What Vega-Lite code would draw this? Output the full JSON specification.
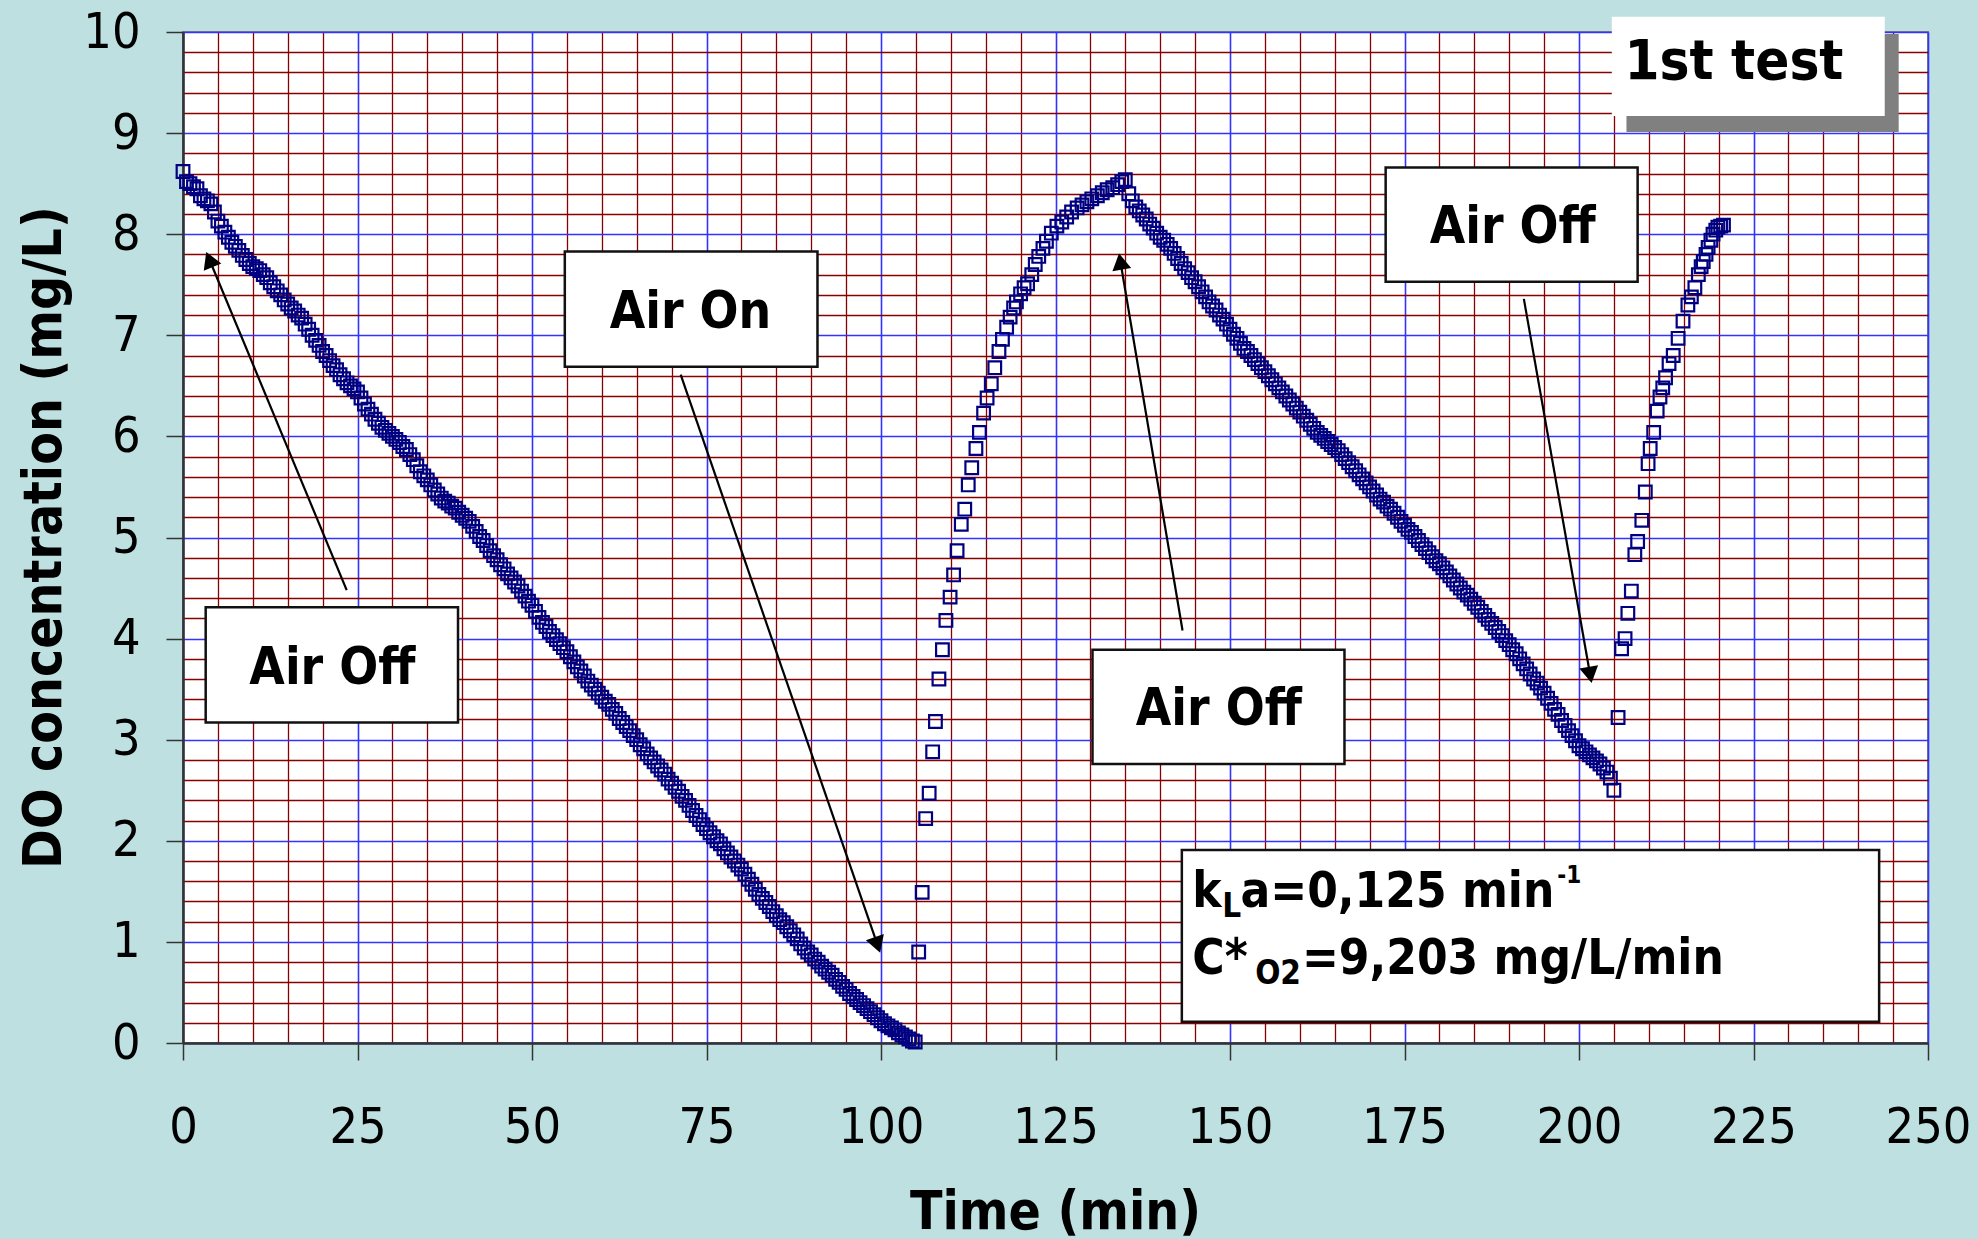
{
  "$schema": "https://vega.github.io/schema/vega-lite/v6.json",
  "width": 1745,
  "height": 1011,
  "autosize": "none",
  "padding": {"left": 183, "top": 32, "right": 50, "bottom": 196},
  "background": "#bee0e0",
  "config": {"view": {"fill": "white", "stroke": "#808080", "strokeWidth": 2}},
  "encoding": {
    "x": {"field": "time", "type": "quantitative", "title": "Time (min)", "scale": {"domain": [0, 250], "nice": false, "zero": false},
      "axis": {"values": [0,5,10,15,20,25,30,35,40,45,50,55,60,65,70,75,80,85,90,95,100,105,110,115,120,125,130,135,140,145,150,155,160,165,170,175,180,185,190,195,200,205,210,215,220,225,230,235,240,245,250],
        "labelExpr": "datum.value % 25 === 0 ? datum.label : ''",
        "grid": true, "gridColor": {"condition": {"test": "datum.value % 25 === 0", "value": "#3333ff"}, "value": "#880000"}, "gridWidth": {"condition": {"test": "datum.value % 25 === 0", "value": 1.6}, "value": 1.3},
        "ticks": true, "tickSize": 17, "tickColor": "#333333", "tickWidth": 1.5, "tickOpacity": {"condition": {"test": "datum.value % 25 === 0", "value": 1}, "value": 0},
        "domainColor": "#333333", "domainWidth": 2.5,
        "labelFont": "DejaVu Sans Condensed", "labelFontSize": 50, "labelColor": "black", "labelBaseline": "alphabetic", "labelAlign": "center", "labelPadding": 82, "labelFlush": false, "labelOverlap": false, "labelBound": false,
        "titleFont": "DejaVu Sans Condensed", "titleFontWeight": "bold", "titleFontSize": 53, "titleColor": "black", "titleBaseline": "alphabetic", "titleY": 185, "titleX": 872}},
    "y": {"field": "do", "type": "quantitative", "title": "DO concentration (mg/L)", "scale": {"domain": [0, 10], "nice": false, "zero": false},
      "axis": {"values": [0,0.2,0.4,0.6,0.8,1,1.2,1.4,1.6,1.8,2,2.2,2.4,2.6,2.8,3,3.2,3.4,3.6,3.8,4,4.2,4.4,4.6,4.8,5,5.2,5.4,5.6,5.8,6,6.2,6.4,6.6,6.8,7,7.2,7.4,7.6,7.8,8,8.2,8.4,8.6,8.8,9,9.2,9.4,9.6,9.8,10],
        "labelExpr": "abs(datum.value - round(datum.value)) < 0.001 ? format(datum.value, 'd') : ''",
        "grid": true, "gridColor": {"condition": {"test": "abs(datum.value - round(datum.value)) < 0.001", "value": "#3333ff"}, "value": "#880000"}, "gridWidth": {"condition": {"test": "abs(datum.value - round(datum.value)) < 0.001", "value": 1.6}, "value": 1.3},
        "ticks": true, "tickSize": 17, "tickColor": "#333333", "tickWidth": 1.5, "tickOpacity": {"condition": {"test": "abs(datum.value - round(datum.value)) < 0.001", "value": 1}, "value": 0},
        "domainColor": "#333333", "domainWidth": 2.5,
        "labelFont": "DejaVu Sans Condensed", "labelFontSize": 50, "labelColor": "black", "labelBaseline": "middle", "labelAlign": "right", "labelPadding": 26, "labelFlush": false, "labelOverlap": false, "labelBound": false,
        "titleFont": "DejaVu Sans Condensed", "titleFontWeight": "bold", "titleFontSize": 53, "titleColor": "black", "titleBaseline": "alphabetic", "titleAngle": 270, "titleX": -123, "titleY": 505}}
  },
  "layer": [
    {
      "data": {"values": [
        {"time":0,"do":8.62},{"time":0.5,"do":8.52},{"time":1,"do":8.5},{"time":1.5,"do":8.47},{"time":2,"do":8.45},{"time":2.5,"do":8.38},{"time":3,"do":8.35},{"time":3.5,"do":8.33},{"time":4,"do":8.3},{"time":4.5,"do":8.22},{"time":5,"do":8.13},{"time":5.5,"do":8.08},{"time":6,"do":8.02},{"time":6.5,"do":7.97},{"time":7,"do":7.92},{"time":7.5,"do":7.88},{"time":8,"do":7.84},{"time":8.5,"do":7.79},{"time":9,"do":7.75},{"time":9.5,"do":7.71},{"time":10,"do":7.68},{"time":10.5,"do":7.66},{"time":11,"do":7.64},{"time":11.5,"do":7.6},{"time":12,"do":7.57},{"time":12.5,"do":7.52},{"time":13,"do":7.48},{"time":13.5,"do":7.44},{"time":14,"do":7.4},{"time":14.5,"do":7.35},{"time":15,"do":7.31},{"time":15.5,"do":7.27},{"time":16,"do":7.24},{"time":16.5,"do":7.2},{"time":17,"do":7.17},{"time":17.5,"do":7.11},{"time":18,"do":7.06},{"time":18.5,"do":7.0},{"time":19,"do":6.95},{"time":19.5,"do":6.9},{"time":20,"do":6.84},{"time":20.5,"do":6.8},{"time":21,"do":6.75},{"time":21.5,"do":6.7},{"time":22,"do":6.66},{"time":22.5,"do":6.61},{"time":23,"do":6.57},{"time":23.5,"do":6.53},{"time":24,"do":6.5},{"time":24.5,"do":6.47},{"time":25,"do":6.44},{"time":25.5,"do":6.38},{"time":26,"do":6.32},{"time":26.5,"do":6.27},{"time":27,"do":6.22},{"time":27.5,"do":6.17},{"time":28,"do":6.13},{"time":28.5,"do":6.09},{"time":29,"do":6.06},{"time":29.5,"do":6.03},{"time":30,"do":6.0},{"time":30.5,"do":5.97},{"time":31,"do":5.94},{"time":31.5,"do":5.9},{"time":32,"do":5.87},{"time":32.5,"do":5.82},{"time":33,"do":5.77},{"time":33.5,"do":5.71},{"time":34,"do":5.65},{"time":34.5,"do":5.61},{"time":35,"do":5.57},{"time":35.5,"do":5.52},{"time":36,"do":5.47},{"time":36.5,"do":5.43},{"time":37,"do":5.39},{"time":37.5,"do":5.36},{"time":38,"do":5.34},{"time":38.5,"do":5.31},{"time":39,"do":5.29},{"time":39.5,"do":5.25},{"time":40,"do":5.22},{"time":40.5,"do":5.19},{"time":41,"do":5.16},{"time":41.5,"do":5.11},{"time":42,"do":5.06},{"time":42.5,"do":5.01},{"time":43,"do":4.97},{"time":43.5,"do":4.92},{"time":44,"do":4.87},{"time":44.5,"do":4.82},{"time":45,"do":4.78},{"time":45.5,"do":4.73},{"time":46,"do":4.69},{"time":46.5,"do":4.64},{"time":47,"do":4.6},{"time":47.5,"do":4.56},{"time":48,"do":4.52},{"time":48.5,"do":4.47},{"time":49,"do":4.42},{"time":49.5,"do":4.37},{"time":50,"do":4.33},{"time":50.5,"do":4.27},{"time":51,"do":4.21},{"time":51.5,"do":4.16},{"time":52,"do":4.12},{"time":52.5,"do":4.07},{"time":53,"do":4.03},{"time":53.5,"do":3.99},{"time":54,"do":3.95},{"time":54.5,"do":3.91},{"time":55,"do":3.87},{"time":55.5,"do":3.82},{"time":56,"do":3.77},{"time":56.5,"do":3.72},{"time":57,"do":3.68},{"time":57.5,"do":3.63},{"time":58,"do":3.58},{"time":58.5,"do":3.54},{"time":59,"do":3.5},{"time":59.5,"do":3.46},{"time":60,"do":3.42},{"time":60.5,"do":3.38},{"time":61,"do":3.35},{"time":61.5,"do":3.3},{"time":62,"do":3.26},{"time":62.5,"do":3.21},{"time":63,"do":3.17},{"time":63.5,"do":3.13},{"time":64,"do":3.09},{"time":64.5,"do":3.04},{"time":65,"do":3.0},{"time":65.5,"do":2.95},{"time":66,"do":2.91},{"time":66.5,"do":2.86},{"time":67,"do":2.82},{"time":67.5,"do":2.78},{"time":68,"do":2.74},{"time":68.5,"do":2.7},{"time":69,"do":2.66},{"time":69.5,"do":2.61},{"time":70,"do":2.57},{"time":70.5,"do":2.53},{"time":71,"do":2.49},{"time":71.5,"do":2.44},{"time":72,"do":2.4},{"time":72.5,"do":2.35},{"time":73,"do":2.3},{"time":73.5,"do":2.25},{"time":74,"do":2.21},{"time":74.5,"do":2.16},{"time":75,"do":2.12},{"time":75.5,"do":2.08},{"time":76,"do":2.04},{"time":76.5,"do":2.0},{"time":77,"do":1.97},{"time":77.5,"do":1.92},{"time":78,"do":1.88},{"time":78.5,"do":1.84},{"time":79,"do":1.8},{"time":79.5,"do":1.76},{"time":80,"do":1.72},{"time":80.5,"do":1.67},{"time":81,"do":1.62},{"time":81.5,"do":1.57},{"time":82,"do":1.52},{"time":82.5,"do":1.47},{"time":83,"do":1.43},{"time":83.5,"do":1.39},{"time":84,"do":1.35},{"time":84.5,"do":1.3},{"time":85,"do":1.26},{"time":85.5,"do":1.22},{"time":86,"do":1.19},{"time":86.5,"do":1.15},{"time":87,"do":1.11},{"time":87.5,"do":1.07},{"time":88,"do":1.03},{"time":88.5,"do":0.98},{"time":89,"do":0.94},{"time":89.5,"do":0.9},{"time":90,"do":0.87},{"time":90.5,"do":0.83},{"time":91,"do":0.8},{"time":91.5,"do":0.76},{"time":92,"do":0.73},{"time":92.5,"do":0.7},{"time":93,"do":0.67},{"time":93.5,"do":0.63},{"time":94,"do":0.6},{"time":94.5,"do":0.56},{"time":95,"do":0.53},{"time":95.5,"do":0.49},{"time":96,"do":0.46},{"time":96.5,"do":0.43},{"time":97,"do":0.4},{"time":97.5,"do":0.37},{"time":98,"do":0.34},{"time":98.5,"do":0.31},{"time":99,"do":0.28},{"time":99.5,"do":0.25},{"time":100,"do":0.22},{"time":100.5,"do":0.19},{"time":101,"do":0.17},{"time":101.5,"do":0.15},{"time":102,"do":0.13},{"time":102.5,"do":0.1},{"time":103,"do":0.08},{"time":103.5,"do":0.06},{"time":104,"do":0.04},{"time":104.5,"do":0.02},{"time":104.9,"do":0.01},
        {"time":105.4,"do":0.9},{"time":105.9,"do":1.49},{"time":106.4,"do":2.22},{"time":106.9,"do":2.47},{"time":107.4,"do":2.88},{"time":107.8,"do":3.18},{"time":108.3,"do":3.6},{"time":108.8,"do":3.89},{"time":109.3,"do":4.18},{"time":109.9,"do":4.41},{"time":110.4,"do":4.63},{"time":110.9,"do":4.87},{"time":111.5,"do":5.13},{"time":112,"do":5.28},{"time":112.5,"do":5.52},{"time":113,"do":5.69},{"time":113.6,"do":5.88},{"time":114.1,"do":6.04},{"time":114.7,"do":6.23},{"time":115.2,"do":6.38},{"time":115.8,"do":6.52},{"time":116.3,"do":6.68},{"time":116.9,"do":6.84},{"time":117.4,"do":6.96},{"time":118,"do":7.08},{"time":118.5,"do":7.18},{"time":119,"do":7.27},{"time":119.4,"do":7.33},{"time":120,"do":7.41},{"time":120.5,"do":7.47},{"time":121,"do":7.51},{"time":121.6,"do":7.6},{"time":122.1,"do":7.7},{"time":122.6,"do":7.78},{"time":123.2,"do":7.86},{"time":123.7,"do":7.93},{"time":124.4,"do":8.01},{"time":125.2,"do":8.08},{"time":125.9,"do":8.12},{"time":126.6,"do":8.17},{"time":127.3,"do":8.22},{"time":128.1,"do":8.26},{"time":128.8,"do":8.29},{"time":129.5,"do":8.32},{"time":130.2,"do":8.35},{"time":131,"do":8.38},{"time":131.7,"do":8.41},{"time":132.4,"do":8.44},{"time":133.2,"do":8.46},{"time":133.9,"do":8.49},{"time":134.5,"do":8.52},{"time":135,"do":8.54},
        {"time":135.5,"do":8.4},{"time":136,"do":8.33},{"time":136.5,"do":8.27},{"time":137,"do":8.23},{"time":137.5,"do":8.19},{"time":138,"do":8.15},{"time":138.5,"do":8.1},{"time":139,"do":8.06},{"time":139.5,"do":8.01},{"time":140,"do":7.97},{"time":140.5,"do":7.94},{"time":141,"do":7.9},{"time":141.5,"do":7.86},{"time":142,"do":7.81},{"time":142.5,"do":7.76},{"time":143,"do":7.71},{"time":143.5,"do":7.66},{"time":144,"do":7.62},{"time":144.5,"do":7.57},{"time":145,"do":7.53},{"time":145.5,"do":7.48},{"time":146,"do":7.43},{"time":146.5,"do":7.38},{"time":147,"do":7.33},{"time":147.5,"do":7.29},{"time":148,"do":7.25},{"time":148.5,"do":7.2},{"time":149,"do":7.16},{"time":149.5,"do":7.11},{"time":150,"do":7.06},{"time":150.5,"do":7.01},{"time":151,"do":6.97},{"time":151.5,"do":6.92},{"time":152,"do":6.87},{"time":152.5,"do":6.84},{"time":153,"do":6.8},{"time":153.5,"do":6.76},{"time":154,"do":6.72},{"time":154.5,"do":6.68},{"time":155,"do":6.64},{"time":155.5,"do":6.6},{"time":156,"do":6.56},{"time":156.5,"do":6.52},{"time":157,"do":6.48},{"time":157.5,"do":6.44},{"time":158,"do":6.4},{"time":158.5,"do":6.36},{"time":159,"do":6.32},{"time":159.5,"do":6.28},{"time":160,"do":6.24},{"time":160.5,"do":6.2},{"time":161,"do":6.16},{"time":161.5,"do":6.12},{"time":162,"do":6.08},{"time":162.5,"do":6.04},{"time":163,"do":6.01},{"time":163.5,"do":5.98},{"time":164,"do":5.95},{"time":164.5,"do":5.92},{"time":165,"do":5.89},{"time":165.5,"do":5.86},{"time":166,"do":5.82},{"time":166.5,"do":5.78},{"time":167,"do":5.74},{"time":167.5,"do":5.7},{"time":168,"do":5.66},{"time":168.5,"do":5.62},{"time":169,"do":5.58},{"time":169.5,"do":5.54},{"time":170,"do":5.5},{"time":170.5,"do":5.46},{"time":171,"do":5.42},{"time":171.5,"do":5.38},{"time":172,"do":5.35},{"time":172.5,"do":5.31},{"time":173,"do":5.28},{"time":173.5,"do":5.24},{"time":174,"do":5.2},{"time":174.5,"do":5.16},{"time":175,"do":5.12},{"time":175.5,"do":5.08},{"time":176,"do":5.05},{"time":176.5,"do":5.01},{"time":177,"do":4.97},{"time":177.5,"do":4.93},{"time":178,"do":4.89},{"time":178.5,"do":4.85},{"time":179,"do":4.81},{"time":179.5,"do":4.77},{"time":180,"do":4.74},{"time":180.5,"do":4.7},{"time":181,"do":4.66},{"time":181.5,"do":4.62},{"time":182,"do":4.58},{"time":182.5,"do":4.54},{"time":183,"do":4.5},{"time":183.5,"do":4.46},{"time":184,"do":4.43},{"time":184.5,"do":4.39},{"time":185,"do":4.35},{"time":185.5,"do":4.31},{"time":186,"do":4.27},{"time":186.5,"do":4.23},{"time":187,"do":4.19},{"time":187.5,"do":4.15},{"time":188,"do":4.11},{"time":188.5,"do":4.07},{"time":189,"do":4.03},{"time":189.5,"do":3.98},{"time":190,"do":3.94},{"time":190.5,"do":3.89},{"time":191,"do":3.85},{"time":191.5,"do":3.8},{"time":192,"do":3.75},{"time":192.5,"do":3.7},{"time":193,"do":3.65},{"time":193.5,"do":3.6},{"time":194,"do":3.56},{"time":194.5,"do":3.51},{"time":195,"do":3.46},{"time":195.5,"do":3.41},{"time":196,"do":3.36},{"time":196.5,"do":3.3},{"time":197,"do":3.25},{"time":197.5,"do":3.19},{"time":198,"do":3.14},{"time":198.5,"do":3.09},{"time":199,"do":3.04},{"time":199.5,"do":2.99},{"time":200,"do":2.94},{"time":200.5,"do":2.91},{"time":201,"do":2.88},{"time":201.5,"do":2.85},{"time":202,"do":2.82},{"time":202.5,"do":2.79},{"time":203,"do":2.76},{"time":203.5,"do":2.72},{"time":204,"do":2.68},{"time":204.5,"do":2.62},{"time":205,"do":2.5},
        {"time":205.6,"do":3.22},{"time":206.1,"do":3.9},{"time":206.6,"do":4.0},{"time":207,"do":4.25},{"time":207.5,"do":4.47},{"time":208,"do":4.83},{"time":208.4,"do":4.96},{"time":209,"do":5.17},{"time":209.5,"do":5.45},{"time":209.9,"do":5.73},{"time":210.2,"do":5.88},{"time":210.7,"do":6.04},{"time":211.2,"do":6.25},{"time":211.6,"do":6.39},{"time":212,"do":6.48},{"time":212.4,"do":6.58},{"time":212.9,"do":6.72},{"time":213.5,"do":6.8},{"time":214.2,"do":6.97},{"time":214.9,"do":7.14},{"time":215.6,"do":7.3},{"time":216.1,"do":7.38},{"time":216.6,"do":7.47},{"time":217.1,"do":7.6},{"time":217.5,"do":7.68},{"time":217.8,"do":7.73},{"time":218.2,"do":7.8},{"time":218.5,"do":7.87},{"time":218.9,"do":7.94},{"time":219.2,"do":8.0},{"time":219.6,"do":8.04},{"time":219.9,"do":8.07},{"time":220.3,"do":8.08},{"time":220.7,"do":8.09}
      ]},
      "mark": {"type": "point", "shape": "square", "filled": false, "size": 160, "stroke": "#000080", "strokeWidth": 2.2, "opacity": 1}
    },
    {
      "data": {"values": [{"time": 206.8, "time2": 245.8, "do": 9.01, "do2": 9.98}]},
      "mark": {"type": "rect", "fill": "#808080", "strokeWidth": 0},
      "encoding": {"x2": {"field": "time2"}, "y2": {"field": "do2"}}
    },
    {
      "data": {"values": [{"time": 204.7, "time2": 243.8, "do": 9.17, "do2": 10.15}]},
      "mark": {"type": "rect", "fill": "white", "strokeWidth": 0},
      "encoding": {"x2": {"field": "time2"}, "y2": {"field": "do2"}}
    },
    {
      "data": {"values": [
        {"time": 3.25, "time2": 39.4, "do": 3.17, "do2": 4.31},
        {"time": 54.7, "time2": 90.9, "do": 6.69, "do2": 7.83},
        {"time": 172.3, "time2": 208.4, "do": 7.53, "do2": 8.66},
        {"time": 130.3, "time2": 166.4, "do": 2.76, "do2": 3.89},
        {"time": 143.1, "time2": 243.0, "do": 0.21, "do2": 1.91}
      ]},
      "mark": {"type": "rect", "fill": "white", "stroke": "#111111", "strokeWidth": 2.5},
      "encoding": {"x2": {"field": "time2"}, "y2": {"field": "do2"}}
    },
    {
      "data": {"values": [
        {"time": 23.45, "do": 4.48, "time2": 3.78, "do2": 7.75},
        {"time": 71.3, "do": 6.61, "time2": 99.5, "do2": 0.97},
        {"time": 143.2, "do": 4.08, "time2": 134.3, "do2": 7.73},
        {"time": 192.1, "do": 7.36, "time2": 201.6, "do2": 3.64}
      ]},
      "mark": {"type": "rule", "color": "black", "strokeWidth": 2.2},
      "encoding": {"x2": {"field": "time2"}, "y2": {"field": "do2"}}
    },
    {
      "data": {"values": [{"time": 3.78, "do": 7.75}]},
      "mark": {"type": "point", "shape": "triangle-up", "filled": true, "color": "black", "opacity": 1, "size": 360, "angle": 337.5}
    },
    {
      "data": {"values": [{"time": 99.5, "do": 0.97}]},
      "mark": {"type": "point", "shape": "triangle-up", "filled": true, "color": "black", "opacity": 1, "size": 360, "angle": 161}
    },
    {
      "data": {"values": [{"time": 134.3, "do": 7.73}]},
      "mark": {"type": "point", "shape": "triangle-up", "filled": true, "color": "black", "opacity": 1, "size": 360, "angle": 350.4}
    },
    {
      "data": {"values": [{"time": 201.6, "do": 3.64}]},
      "mark": {"type": "point", "shape": "triangle-up", "filled": true, "color": "black", "opacity": 1, "size": 360, "angle": 170}
    },
    {
      "data": {"values": [
        {"time": 21.4, "do": 3.55, "label": "Air Off"},
        {"time": 72.7, "do": 7.07, "label": "Air On"},
        {"time": 190.5, "do": 7.91, "label": "Air Off"},
        {"time": 148.4, "do": 3.15, "label": "Air Off"}
      ]},
      "mark": {"type": "text", "font": "DejaVu Sans Condensed", "fontWeight": "bold", "fontSize": 51, "align": "center", "baseline": "alphabetic", "color": "black"},
      "encoding": {"text": {"field": "label"}}
    },
    {
      "data": {"values": [{"time": 222.2, "do": 9.54, "label": "1st test"}]},
      "mark": {"type": "text", "font": "DejaVu Sans Condensed", "fontWeight": "bold", "fontSize": 56, "align": "center", "baseline": "alphabetic", "color": "black"},
      "encoding": {"text": {"field": "label"}}
    },
    {
      "data": {"values": [
        {"time": 144.6, "do": 1.344, "label": "k"},
        {"time": 151.5, "do": 1.344, "label": "a=0,125 min"},
        {"time": 144.6, "do": 0.685, "label": "C*"},
        {"time": 160.3, "do": 0.685, "label": "=9,203 mg/L/min"}
      ]},
      "mark": {"type": "text", "font": "DejaVu Sans Condensed", "fontWeight": "bold", "fontSize": 49, "align": "left", "baseline": "alphabetic", "color": "black"},
      "encoding": {"text": {"field": "label"}}
    },
    {
      "data": {"values": [
        {"time": 148.9, "do": 1.247, "label": "L"},
        {"time": 153.6, "do": 0.586, "label": "O2"}
      ]},
      "mark": {"type": "text", "font": "DejaVu Sans Condensed", "fontWeight": "bold", "fontSize": 33, "align": "left", "baseline": "alphabetic", "color": "black"},
      "encoding": {"text": {"field": "label"}}
    },
    {
      "data": {"values": [{"time": 196.9, "do": 1.582, "label": "-1"}]},
      "mark": {"type": "text", "font": "DejaVu Sans Condensed", "fontWeight": "bold", "fontSize": 24, "align": "left", "baseline": "alphabetic", "color": "black"},
      "encoding": {"text": {"field": "label"}}
    }
  ]
}
